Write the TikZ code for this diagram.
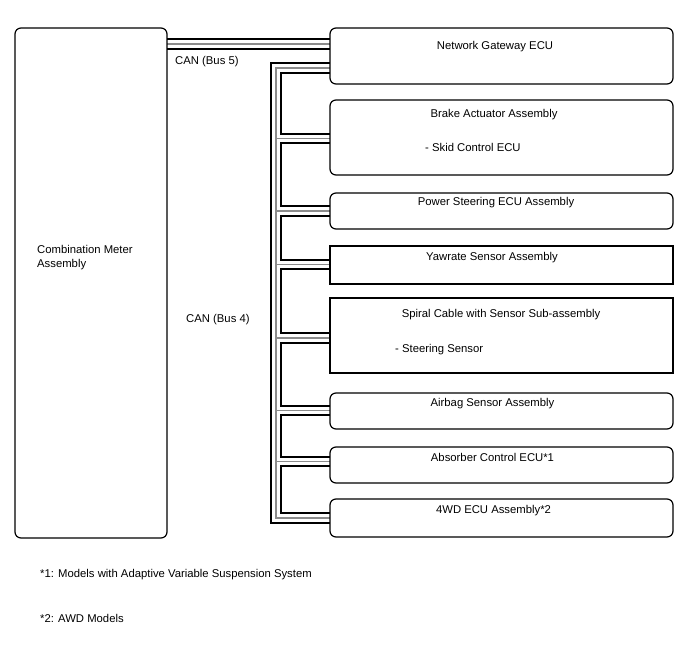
\documentclass[tikz,border=0pt]{standalone}
\usepackage{fontspec}
\setmainfont{Liberation Sans}
\pgfdeclarelayer{background}
\pgfsetlayers{background,main}
\begin{document}
\begin{tikzpicture}[x=1pt,y=-1pt,
  box/.style={draw=black, line width=1.2pt, rounded corners=6pt, anchor=north west, inner sep=0pt, outer sep=0pt, minimum width=343pt},
  sqbox/.style={draw=black, line width=1.1pt, anchor=north west, inner sep=0pt, outer sep=0pt, minimum width=343pt},
  txt/.style={font=\fontsize{11.3}{14}\selectfont, inner sep=0pt},
  busA/.style={draw=black, line width=11.5pt, line join=miter, line cap=butt},
  busB/.style={draw=white, line width=7.2pt, line join=miter, line cap=butt},
  busC/.style={draw=black!45, line width=1.3pt, line join=miter, line cap=butt}]
\useasboundingbox (0,0) rectangle (688,658);

% boxes
\node[box, minimum width=152pt, minimum height=510pt] (cm) at (15,28) {};
\node[box, minimum height=56pt] (gw) at (330,28) {};
\node[box, minimum height=75pt] (ba) at (330,100) {};
\node[box, minimum height=36pt] (ps) at (330,193) {};
\node[sqbox, minimum height=38pt] (ys) at (330,246) {};
\node[sqbox, minimum height=75pt] (sc) at (330,298) {};
\node[box, minimum height=36pt] (ab) at (330,393) {};
\node[box, minimum height=36pt] (ac) at (330,447) {};
\node[box, minimum height=38pt] (fw) at (330,499) {};

% texts
\node[txt, anchor=west, align=left] (cmt) at (37,258) {Combination Meter\\Assembly};
\node[txt] (gwt) at (495,46.5) {Network Gateway ECU};
\node[txt] (bat) at (494,114.5) {Brake Actuator Assembly};
\node[txt, anchor=west] (bat2) at (425,147.5) {- Skid Control ECU};
\node[txt] (pst) at (496,202.5) {Power Steering ECU Assembly};
\node[txt] (yst) at (492,257.5) {Yawrate Sensor Assembly};
\node[txt] (sct) at (501,314.5) {Spiral Cable with Sensor Sub-assembly};
\node[txt, anchor=west] (sct2) at (395,349.5) {- Steering Sensor};
\node[txt] (abt) at (492.5,403.5) {Airbag Sensor Assembly};
\node[txt] (act) at (492.5,457.5) {Absorber Control ECU*1};
\node[txt] (fwt) at (493.5,510.5) {4WD ECU Assembly*2};
\node[txt, anchor=west] (bus5) at (175,61.5) {CAN (Bus 5)};
\node[txt, anchor=west] (bus4) at (186,319.5) {CAN (Bus 4)};
\node[txt, anchor=west] (fn1) at (40,574.5) {*1: Models with Adaptive Variable Suspension System};
\node[txt, anchor=west] (fn2) at (40,618.5) {*2: AWD Models};

% bus junction coordinates
\coordinate (c5) at (0,44);
\coordinate (j0) at (276,68);
\coordinate (j1) at (276,138.5);
\coordinate (j2) at (276,211);
\coordinate (j3) at (276,264.5);
\coordinate (j4) at (276,338);
\coordinate (j5) at (276,410.5);
\coordinate (j6) at (276,461.5);
\coordinate (j7) at (276,518);

\begin{pgfonlayer}{background}
\foreach \s in {busA,busB,busC}{
  \draw[\s] (cm.east |- c5) -- (gw.west |- c5);
  \draw[\s] (gw.west |- j0) -- (j0) -- (j7) -- (fw.west |- j7);
  \draw[\s] (j1) -- (ba.west |- j1);
  \draw[\s] (j2) -- (ps.west |- j2);
  \draw[\s] (j3) -- (ys.west |- j3);
  \draw[\s] (j4) -- (sc.west |- j4);
  \draw[\s] (j5) -- (ab.west |- j5);
  \draw[\s] (j6) -- (ac.west |- j6);
}
\end{pgfonlayer}
\end{tikzpicture}
\end{document}
